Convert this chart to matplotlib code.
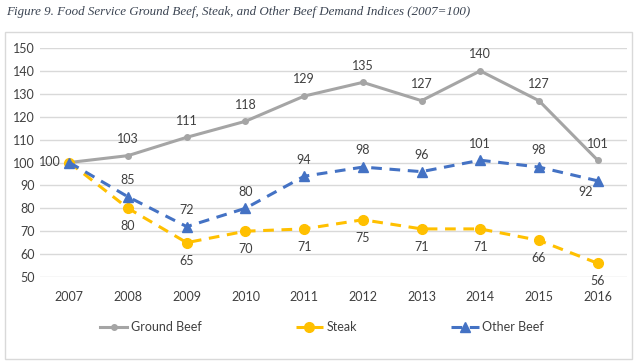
import matplotlib.pyplot as plt
from matplotlib.lines import Line2D
from matplotlib.patches import Rectangle

years = ['2007', '2008', '2009', '2010', '2011', '2012', '2013', '2014', '2015', '2016']
ground_beef = [100, 103, 111, 118, 129, 135, 127, 140, 127, 101]
steak = [100, 80, 65, 70, 71, 75, 71, 71, 66, 56]
other_beef = [100, 85, 72, 80, 94, 98, 96, 101, 98, 92]

grey = '#A5A5A5'
gold = '#FFC000'
blue = '#4472C4'
txt = '#404040'
font = 'Lato'

W, H = 638, 362
fig = plt.figure(figsize=(W / 100, H / 100), dpi=100)

# chart border
fig.patches.append(Rectangle((5 / W, 1 - 359 / H), 627 / W, 327 / H, transform=fig.transFigure,
                             fill=False, edgecolor='#D9D9D9', linewidth=1))

fig.text(6 / W, 1 - 12 / H, 'Figure 9. Food Service Ground Beef, Steak, and Other Beef Demand Indices (2007=100)',
         family='Liberation Serif', style='italic', fontsize=9.4, color='#3B4452', va='center')

ax = fig.add_axes([40 / W, 1 - 277 / H, 587 / W, 229 / H])
x = range(len(years))

ax.plot(x, ground_beef, color=grey, lw=2.2, marker='o', ms=4, zorder=3)
ax.plot(x, steak, color=gold, lw=2.2, ls=(0, (3.5, 2.5)), marker='o', ms=7, zorder=3)
ax.plot(x, other_beef, color=blue, lw=2.2, ls=(0, (3.5, 2.5)), marker='^', ms=6.5, zorder=4)

ax.set_xlim(-0.5, len(years) - 0.5)
ax.set_ylim(50, 150)
ax.set_yticks(range(50, 151, 10))
ax.set_xticks(list(x))
ax.set_xticklabels(years)
ax.grid(axis='y', color='#D9D9D9', lw=1)
ax.set_axisbelow(True)
for s in ax.spines.values():
    s.set_visible(False)
ax.tick_params(length=0, labelsize=9, labelcolor=txt, pad=4)
ax.tick_params(axis='x', pad=10)
for lab in ax.get_xticklabels() + ax.get_yticklabels():
    lab.set_family(font)

def label(i, v, dx, dy, ha='center'):
    ax.annotate(str(v), (i, v), xytext=(dx, dy), textcoords='offset points',
                ha=ha, va='center', fontsize=9, color=txt, family=font)

label(0, 100, -14, 0)
for i in range(1, len(years)):
    label(i, ground_beef[i], 0, 12)
    label(i, steak[i], 0, -13)
    if i == len(years) - 1:
        label(i, other_beef[i], -9, -8)
    else:
        label(i, other_beef[i], 0, 12)

handles = [
    Line2D([], [], color=grey, lw=2.2, marker='o', ms=4),
    Line2D([], [], color=gold, lw=2.2, ls=(0, (3.5, 2.5)), marker='o', ms=7),
    Line2D([], [], color=blue, lw=2.2, ls=(0, (3.5, 2.5)), marker='^', ms=6.5),
]
leg = fig.legend(handles, ['Ground Beef', 'Steak', 'Other Beef'], loc='center',
                 bbox_to_anchor=(322 / W, 1 - 327 / H), ncol=3, frameon=False,
                 columnspacing=7.5, handlelength=2.2, handletextpad=0.3,
                 prop={'family': font, 'size': 9})
for t in leg.get_texts():
    t.set_color(txt)

fig.savefig('out.png', dpi=100)
